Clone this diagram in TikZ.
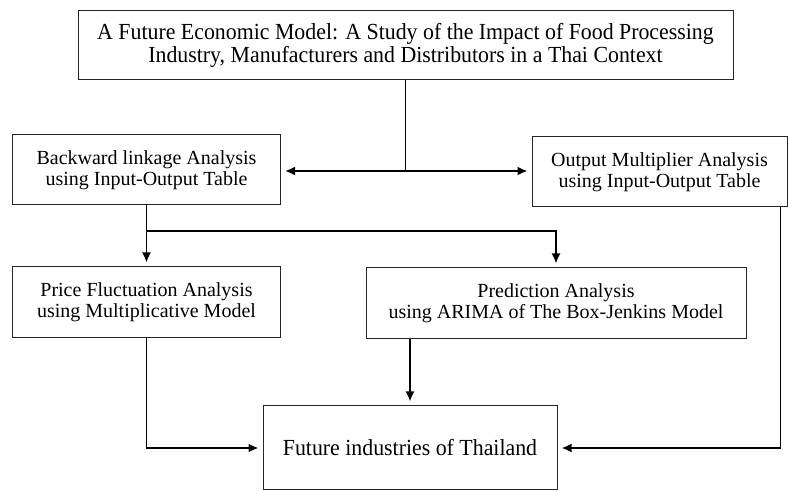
\documentclass[tikz,border=0pt]{standalone}
\usepackage{fontspec}
\setmainfont{Liberation Serif}
\newfontfamily\narrowserif[FakeStretch=0.95]{Liberation Serif}
\usetikzlibrary{arrows.meta,positioning,calc}
\tikzset{
  box/.style={draw=black!85, line width=0.5pt, fill=white, align=center, inner sep=1pt, font=\fontsize{10}{10.5}\selectfont},
  bigbox/.style={box, font=\narrowserif\fontsize{11.5}{11.5}\selectfont},
  arrow/.style={-{Latex[length=5pt,width=4.5pt]}, line width=0.9pt, shorten >=2pt},
  link/.style={line width=0.9pt}
}

\begin{document}
\begin{tikzpicture}[x=0.5pt, y=-0.5pt]
  \useasboundingbox (0,0) rectangle (788,491);
  % boxes (centres in px, y runs down)
  \node[bigbox, minimum width=327.5pt, minimum height=34.5pt] (title) at (405.5,45.5)
    {A Future Economic Model: A Study of the Impact of Food Processing\\Industry, Manufacturers and Distributors in a Thai Context};
  \node[box, minimum width=134pt, minimum height=35pt] (backward) at (146.5,170)
    {Backward linkage Analysis\\using Input-Output Table};
  \node[box, minimum width=127.5pt, minimum height=35pt] (output) at (659.5,172)
    {Output Multiplier Analysis\\using Input-Output Table};
  \node[box, minimum width=134pt, minimum height=35.5pt] (price) at (146.5,302.5)
    {Price Fluctuation Analysis\\using Multiplicative Model};
  \node[box, minimum width=190pt, minimum height=35.5pt] (prediction) at (556,303.5)
    {Prediction Analysis\\using ARIMA of The Box-Jenkins Model};
  \node[bigbox, minimum width=147pt, minimum height=42pt] (future) at (410,448)
    {Future industries of Thailand};

  % connectors
  \coordinate (fork) at (title.south |- 0,171);
  \coordinate (split) at (backward.south |- 0,231);
  \coordinate (outtap) at ($(output.south east)+(-7,0)$);
  \draw[link] (title.south) -- (fork);
  \draw[arrow] (fork) -- (fork -| backward.east);
  \draw[arrow] (fork) -- (fork -| output.west);
  \draw[link] (backward.south) -- (split);
  \draw[arrow] (split) -- (price.north);
  \draw[arrow] (split) -| (prediction.north);
  \draw[arrow] (prediction.south -| future.north) -- (future.north);
  \draw[arrow] (price.south) |- (future.west);
  \draw[arrow] (outtap) |- (future.east);
\end{tikzpicture}
\end{document}
